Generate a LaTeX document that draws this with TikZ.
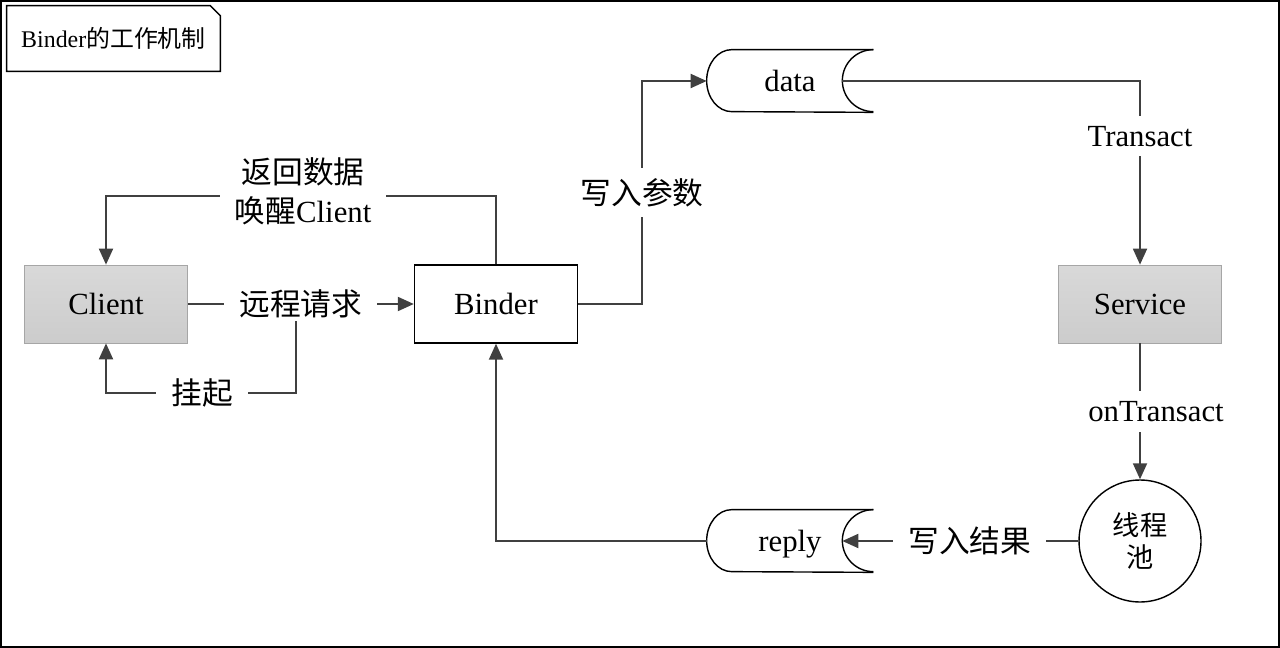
\documentclass[tikz,border=0pt]{standalone}
\usepackage{fontspec}
\setmainfont{Liberation Serif}
\newfontfamily\cjk{Noto Sans CJK SC}
\usetikzlibrary{arrows.meta}

\newcommand\drawstore[1]{%
	\draw [storeline] (#1.north east) -- ([xshift=0.5cm]#1.north west) arc[start angle=90, end angle=270, x radius=0.5cm, y radius=0.62cm] -- (#1.south east);
	\draw [storeline] (#1.north east) arc[start angle=90, end angle=270, radius=0.62cm];}

\begin{document}
\begin{tikzpicture}[x=0.02cm, y=-0.02cm, font=\fontsize{17.5}{22}\selectfont,
	box/.style={rectangle, minimum width=3.26cm, minimum height=1.56cm, text centered},
	graybox/.style={box, draw=gray!70, top color=gray!30, bottom color=gray!40},
	whitebox/.style={box, draw=black, line width=0.8pt, fill=white},
	store/.style={rectangle, minimum width=3.32cm, minimum height=1.24cm, text height=12pt, text depth=0pt},
	storeline/.style={draw=black, line width=0.8pt},
	lbl/.style={fill=white, inner xsep=0.3cm, inner ysep=0.05cm},
	vlbl/.style={fill=white, inner xsep=0.05cm, inner ysep=0.2cm},
	arrow/.style={line width=1.1pt, draw=black!75, -{Triangle[length=0.32cm, width=0.28cm]}}]
	
	\useasboundingbox (0,0) rectangle (1280,648);
	\draw [line width=0.04cm] (1,1) rectangle (1279,647);
	
	\node (title) [rectangle, minimum width=4.26cm, minimum height=1.3cm, font=\fontsize{13.6}{16}\selectfont] at (113.5,38.5) {Binder{\cjk 的工作机制}};
	\draw [line width=0.8pt] (title.south west) |- ([xshift=-0.2cm]title.north east) -- ([yshift=-0.2cm]title.north east) -- (title.south east) -- cycle;
	
	\node (client) [graybox] at (106,304) {Client};
	\node (binder) [whitebox] at (496,304) {Binder};
	\node (service) [graybox] at (1140,304) {Service};
	\node (data) [store] at (790,81) {data};
	\node (reply) [store] at (790,541) {reply};
	\node (pool) [circle, draw, line width=0.8pt, minimum size=2.44cm, inner sep=0pt, align=center, font=\cjk\fontsize{15.5}{18.7}\selectfont] at (1140,541) {线程\\池};
	\drawstore{data}
	\drawstore{reply}
	
	\coordinate (split) at (296,304);
	\coordinate (hang) at (202,393);
	\coordinate (ret) at (303,196);
	
	\draw [arrow] (split) |- (hang) -| (client.south);
	\draw [arrow] (client) -- node (request) [lbl] {\cjk 远程请求} (binder);
	\node (hanglbl) [lbl] at (hang) {\cjk 挂起};
	\draw [arrow] (binder.north) |- (ret) -| (client.north);
	\node (retlbl) [lbl, align=center] at (303,191) {{\cjk 返回数据}\\{\cjk 唤醒}Client};
	
	\draw [arrow] (binder.east) -- ++(64,0) |- node (param) [vlbl, pos=0.25] {\cjk 写入参数} (data.west);
	\draw [arrow] ([xshift=-0.62cm]data.east) -| node (transact) [vlbl, pos=0.65] {Transact} (service.north);
	\draw [arrow] (service) -- node (ontransact) [vlbl, xshift=0.32cm] {onTransact} (pool);
	\draw [arrow] (pool) -- node (result) [lbl, pos=0.46] {\cjk 写入结果} ([xshift=-0.62cm]reply.east);
	\draw [arrow] (reply.west) -| (binder.south);
\end{tikzpicture}
\end{document}
